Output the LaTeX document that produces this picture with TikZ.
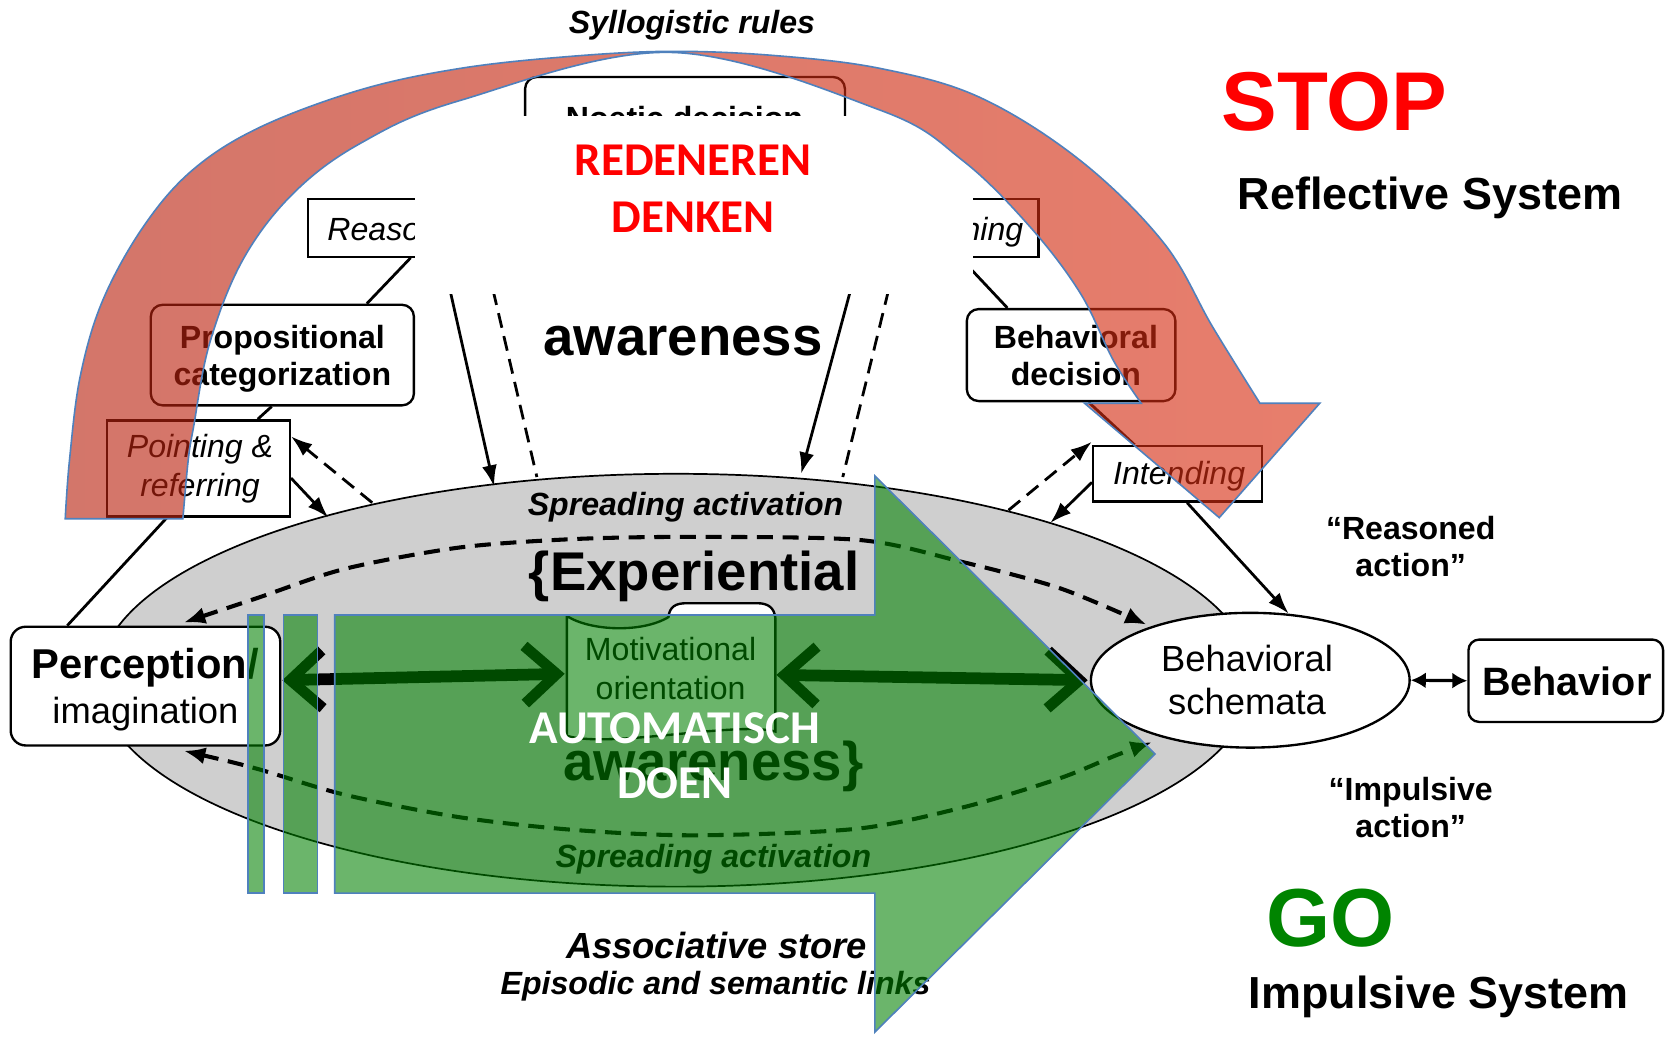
\documentclass[tikz,border=0pt]{standalone}
\usepackage{fontspec}
\setmainfont{Liberation Sans}
\newfontfamily\carl{Carlito}
\usetikzlibrary{arrows.meta,shapes.geometric}
\definecolor{arcL}{RGB}{185,34,15}
\definecolor{arcR}{RGB}{218,47,18}
\definecolor{pptblue}{RGB}{79,129,189}
\definecolor{gogreen}{RGB}{0,128,0}
\definecolor{gotext}{RGB}{0,132,0}
\newcommand\fsz[1]{\fontsize{#1}{#1}\selectfont}
\begin{document}
\begin{tikzpicture}[x=1pt,y=-1pt,
  box/.style={draw, line width=2.2pt, fill=white, inner sep=0pt, rectangle},
  rbox/.style={box, rounded corners=11pt},
  lbl/.style={anchor=base, inner sep=0pt},
  conn/.style={line width=2.6pt},
  arr/.style={conn, -{Latex[length=20pt,width=14pt]}},
  dsh/.style={conn, dash pattern=on 14pt off 8pt},
  dasharr/.style={dsh, -{Latex[length=20pt,width=14pt]}},
  curv/.style={line width=3.8pt, dash pattern=on 15pt off 9pt, {Latex[length=20pt,width=16pt]}-{Latex[length=20pt,width=16pt]}},
  big/.style={line width=11pt, {Straight Barb[length=30pt,width=54pt,line width=10pt]}-{Straight Barb[length=30pt,width=54pt,line width=10pt]}}
]
\fill[white] (0,0) rectangle (1568,969);
\useasboundingbox (0,0) rectangle (1568,969);

% ---------- associative store ----------
\node[ellipse, draw, line width=1.6pt, fill=black!19, minimum width=1080pt, minimum height=386pt, inner sep=0pt] (store) at (632,636) {};

\draw[curv] plot[smooth] coordinates {(172,582) (241,559) (322,532) (429,512) (537,504) (650,502) (805,505) (898,525) (991,550) (1072,584)};
\draw[curv] plot[smooth] coordinates {(172,702) (241,719) (322,743) (429,764) (537,776) (650,781) (800,775) (900,755) (990,728) (1044,706) (1077,694)};

\node[lbl] (spreadT) at (641,482) {\fsz{30}\bfseries\itshape Spreading activation};
\node[lbl] (spreadB) at (667,811) {\fsz{30}\bfseries\itshape Spreading activation};
\node[lbl] (exper) at (649,552) {\fsz{51}\bfseries\{Experiential};
\node[lbl] (aware2) at (667,730) {\fsz{51}\bfseries awareness\}};

% motivational orientation
\draw[line width=2.2pt, fill=white] (530,688) -- (530,576) .. controls (552,590) and (600,592) .. (625,577)
  .. controls (626,567) and (632,564) .. (642,564) -- (708,564) .. controls (718,564) and (724,568) .. (725,578)
  -- (725,684) .. controls (690,674) and (570,700) .. cycle;
\node[lbl] (motT1) at (627,618) {\fsz{30}Motivational};
\node[lbl] (motT2) at (627,654) {\fsz{30}orientation};
\coordinate (motL) at (528,630);
\coordinate (motR) at (726,631);

% perception box
\node[rbox, rounded corners=14pt, minimum width=252pt, minimum height=111pt] (perc) at (136,641.5) {};
\node[lbl] (percT1) at (136,634) {\fsz{39}\bfseries Perception/};
\node[lbl] (percT2) at (136,676) {\fsz{34}imagination};
\coordinate (percR) at (264,636);

% behavioral schemata
\node[ellipse, draw, line width=2.2pt, fill=white, minimum width=298pt, minimum height=126pt, inner sep=0pt] (schem) at (1169,636) {};
\node[lbl] (schT1) at (1166,628) {\fsz{34}Behavioral};
\node[lbl] (schT2) at (1166,668) {\fsz{34}schemata};
\coordinate (schL) at (1017,636);

% behavior
\node[rbox, rounded corners=10pt, minimum width=182pt, minimum height=77pt] (behav) at (1464,636.5) {};
\node[lbl] (behavT) at (1465,650) {\fsz{37}\bfseries Behavior};

\draw[big] (percR) -- (motL);
\draw[big] (motR) -- (schL);
\draw[line width=3pt, {Latex[length=14pt,width=15pt]}-{Latex[length=14pt,width=15pt]}] (schem.east) -- (behav.west);

% ---------- reflective boxes ----------
\node[rbox, minimum width=299pt, minimum height=80pt] (noetic) at (640.5,112) {};
\node[lbl] (noeticT) at (640,121) {\fsz{30}\bfseries Noetic decision};
\node[box, minimum width=180pt, minimum height=54pt] (reason) at (378,213) {};
\node[lbl, anchor=base west] (reasonT) at (306,224.5) {\fsz{30}\itshape Reasoning};
\node[box, minimum width=150pt, minimum height=54pt] (plan) at (896,213) {};
\node[lbl, anchor=base east] (planT) at (957,224.5) {\fsz{30}\itshape Planning};

\node[rbox, minimum width=246pt, minimum height=94pt] (prop) at (264,332) {};
\node[lbl] (propT1) at (264,326) {\fsz{30}\bfseries Propositional};
\node[lbl] (propT2) at (264,360) {\fsz{30}\bfseries categorization};

\node[box, minimum width=171pt, minimum height=90pt] (point) at (185.5,438) {};
\node[lbl] (pointT1) at (187,428) {\fsz{30}\itshape Pointing \&};
\node[lbl] (pointT2) at (187,464.5) {\fsz{30}\itshape referring};

\node[rbox, minimum width=195pt, minimum height=86pt] (bdec) at (1001.5,332) {};
\node[lbl] (bdecT1) at (1006,325.6) {\fsz{30}\bfseries Behavioral};
\node[lbl] (bdecT2) at (1006,360) {\fsz{30}\bfseries decision};

\node[box, minimum width=158pt, minimum height=52pt] (intend) at (1101,443) {};
\node[lbl] (intendT) at (1102.5,452.7) {\fsz{30}\itshape Intending};

% connectors
\coordinate (st1) at (348,470);
\coordinate (st2) at (307,484);
\coordinate (st3) at (943,477);
\coordinate (st4) at (982,489);
\coordinate (a1s) at (416,250); \coordinate (a1e) at (462,455);
\coordinate (a2s) at (456,250); \coordinate (a2e) at (502,446);
\coordinate (a3s) at (801,250); \coordinate (a3e) at (749,443);
\coordinate (a4s) at (836,250); \coordinate (a4e) at (788,446);

\draw[conn] ([xshift=97pt]reason.south west) -- ([xshift=79pt]prop.north);
\draw[conn] ([xshift=-10pt]prop.south) -- ([xshift=55.5pt]point.north);
\draw[conn] ([xshift=-29.5pt]point.south) -- ([xshift=54pt]perc.north west);
\draw[conn] ([xshift=78pt]plan.south west) -- ([xshift=39pt]bdec.north west);
\draw[conn] ([xshift=115pt]bdec.south west) -- ([xshift=40pt]intend.north west);
\draw[dasharr] (st1) -- ([yshift=30pt]point.east);
\draw[arr] ([yshift=-9pt]point.east) -- (st2);
\draw[dasharr] (st3) -- ([yshift=30pt]intend.west);
\draw[arr] ([yshift=-8pt]intend.west) -- (st4);
\draw[arr] ([xshift=9pt]intend.south) -- (schem.60);
\draw[arr] (a1s) -- (a1e);
\draw[dsh] (a2s) -- (a2e);
\draw[arr] (a3s) -- (a3e);
\draw[dsh] (a4s) -- (a4e);

% white cover
\fill[white] (388,108) rectangle (910,275);

% ---------- free texts ----------
\node[lbl] (syll) at (647,31) {\fsz{30}\bfseries\itshape Syllogistic rules};
\node[lbl] (aware1) at (638.5,332) {\fsz{51}\bfseries awareness};
\node[lbl] (reasA1) at (1319,504) {\fsz{30}\bfseries “Reasoned};
\node[lbl] (reasA2) at (1319,539) {\fsz{30}\bfseries action”};
\node[lbl] (impA1) at (1319,748) {\fsz{30}\bfseries “Impulsive};
\node[lbl] (impA2) at (1319,783) {\fsz{30}\bfseries action”};
\node[lbl] (assoc1) at (670,896) {\fsz{34}\bfseries\itshape Associative store};
\node[lbl] (assoc2) at (669,930) {\fsz{30}\bfseries\itshape Episodic and semantic links};
\node[lbl] (refl) at (1337,196) {\fsz{42}\bfseries Reflective System};
\node[lbl] (impS) at (1345,943) {\fsz{42}\bfseries Impulsive System};

% ---------- red curved arrow ----------
\shadedraw[left color=arcL, right color=arcR, fill opacity=0.62, draw=pptblue, line width=1.5pt]
  plot[smooth, tension=0.6] coordinates {(61,485) (65,430) (75,352) (96,281) (134,212) (180,159) (243,119) (337,84) (430,64) (530,53) (627,48) (725,52) (823,64) (916,91) (1010,150) (1088,227) (1134,306) (1178,377)}
  -- (1234,377) -- (1140,484) -- (1014,377) -- (1067,377)
  -- plot[smooth, tension=0.6] coordinates {(1067,377) (1041,337) (1010,274) (963,212) (900,150) (823,103) (627,49) (430,94) (337,134) (274,181) (227,243) (196,321) (181,399) (176,430) (171,485)}
  -- cycle;

% ---------- green striped arrow ----------
\filldraw[fill=gogreen, fill opacity=0.58, draw=pptblue, line width=1.5pt] (232,575) rectangle (247,835);
\filldraw[fill=gogreen, fill opacity=0.58, draw=pptblue, line width=1.5pt] (265,575) rectangle (297,835);
\filldraw[fill=gogreen, fill opacity=0.58, draw=pptblue, line width=1.5pt]
  (313,575) -- (818,575) -- (818,445) -- (1080,705) -- (818,965) -- (818,835) -- (313,835) -- cycle;

% ---------- overlay texts ----------
\node[lbl, text=red] (red1) at (648,164) {\carl\fsz{44}\bfseries REDENEREN};
\node[lbl, text=red] (red2) at (648,217) {\carl\fsz{44}\bfseries DENKEN};
\node[lbl, text=white] (auto1) at (631,695) {\carl\fsz{44}\bfseries AUTOMATISCH};
\node[lbl, text=white] (auto2) at (631,747) {\carl\fsz{44}\bfseries DOEN};
\node[lbl, text=red] (stop) at (1247.5,122) {\fsz{78}\bfseries STOP};
\node[lbl, text=gotext] (go) at (1244,885) {\fsz{77}\bfseries GO};
\end{tikzpicture}
\end{document}
